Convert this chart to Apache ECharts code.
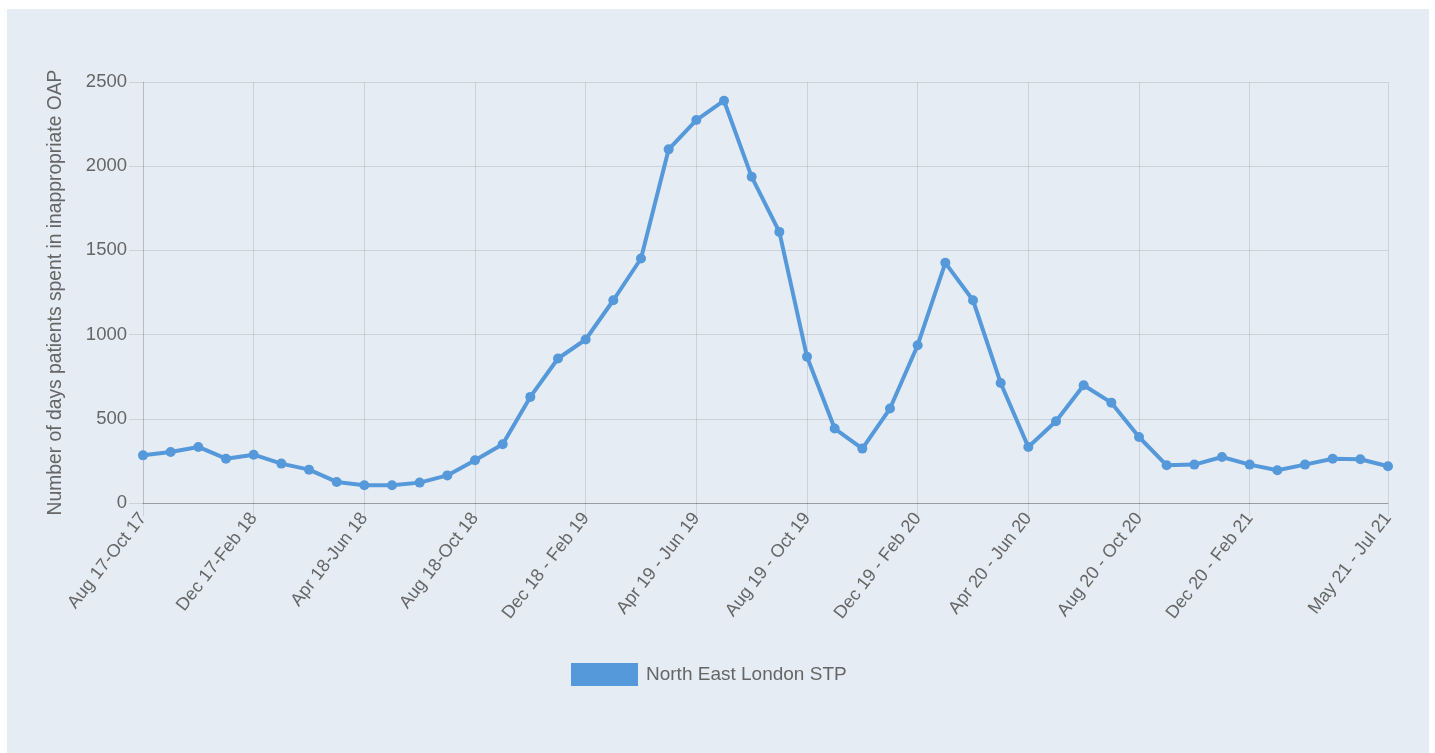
<!DOCTYPE html>
<html>
<head>
<meta charset="utf-8">
<script src="https://cdn.jsdelivr.net/npm/echarts@6/dist/echarts.min.js"></script>
<style>
html,body{margin:0;padding:0;background:#ffffff;}
#panel{position:absolute;left:7px;top:9px;width:1422px;height:744px;background:#e5ecf3;}
#chart{position:absolute;left:0;top:0;width:1435px;height:753px;}
</style>
</head>
<body>
<div id="panel"></div>
<div id="chart"></div>
<script>
const categories = [
"Aug 17-Oct 17","Sep 17-Nov 17","Oct 17-Dec 17","Nov 17-Jan 18","Dec 17-Feb 18","Jan 18-Mar 18",
"Feb 18-Apr 18","Mar 18-May 18","Apr 18-Jun 18","May 18-Jul 18","Jun 18-Aug 18","Jul 18-Sep 18",
"Aug 18-Oct 18","Sep 18 - Nov 18","Oct 18 - Dec 18","Nov 18 - Jan 19","Dec 18 - Feb 19","Jan 19 - Mar 19",
"Feb 19 - Apr 19","Mar 19 - May 19","Apr 19 - Jun 19","May 19 - Jul 19","Jun 19 - Aug 19","Jul 19 - Sep 19",
"Aug 19 - Oct 19","Sep 19 - Nov 19","Oct 19 - Dec 19","Nov 19 - Jan 20","Dec 19 - Feb 20","Jan 20 - Mar 20",
"Feb 20 - Apr 20","Mar 20 - May 20","Apr 20 - Jun 20","May 20 - Jul 20","Jun 20 - Aug 20","Jul 20 - Sep 20",
"Aug 20 - Oct 20","Sep 20 - Nov 20","Oct 20 - Dec 20","Nov 20 - Jan 21","Dec 20 - Feb 21","Jan 21 - Mar 21",
"Feb 21 - Apr 21","Mar 21 - May 21","Apr 21 - Jun 21","May 21 - Jul 21"
];
const neLondonSTP = [
283,303,333,263,287,234,198,125,105,105,121,164,
254,349,630,858,971,1204,1452,2100,2274,2389,1937,1610,
868,442,323,561,937,1426,1204,713,333,485,699,596,
392,224,228,273,228,194,228,263,260,218
];
const yTicks = {min:0, max:2500, interval:500};

const chart = echarts.init(document.getElementById('chart'));
const lastIdx = categories.length - 1;
const showIdx = (i) => (i % 4 === 0 && i < lastIdx - 1) || i === lastIdx;
const gridColor = 'rgba(0,0,0,0.11)';
const font = 'Arial, "Liberation Sans", sans-serif';
chart.setOption({
  backgroundColor: 'transparent',
  animation: false,
  grid: {left: 143, right: 47, top: 82, bottom: 250, containLabel: false},
  legend: {
    data: ['North East London STP'],
    left: 566, top: 658,
    itemWidth: 67, itemHeight: 23, itemGap: 8,
    icon: 'rect',
    textStyle: {color: '#666', fontSize: 19, fontFamily: font, padding: [0,0,0,3]}
  },
  xAxis: {
    type: 'category',
    data: categories,
    boundaryGap: false,
    axisLine: {show: true, lineStyle: {color: 'rgba(0,0,0,0.25)', width: 1}},
    axisTick: {show: true, length: 13, interval: (i) => showIdx(i), lineStyle: {color: gridColor}},
    splitLine: {show: true, interval: (i) => showIdx(i), lineStyle: {color: gridColor}},
    axisLabel: {
      interval: (i) => showIdx(i),
      rotate: 52, margin: 12,
      color: '#666', fontSize: 18,
      fontFamily: font
    }
  },
  yAxis: {
    type: 'value',
    min: yTicks.min, max: yTicks.max, interval: yTicks.interval,
    name: 'Number of days patients spent in inappropriate OAP',
    nameLocation: 'middle', nameGap: 78, nameRotate: 90,
    nameTextStyle: {color: '#666', fontSize: 19.3, fontFamily: font},
    axisLine: {show: true, lineStyle: {color: gridColor}},
    axisTick: {show: true, length: 14, lineStyle: {color: gridColor}},
    splitLine: {show: true, lineStyle: {color: gridColor}},
    axisLabel: {color: '#666', fontSize: 18.5, margin: 16, fontFamily: font, formatter: (v) => String(v)}
  },
  series: [{
    name: 'North East London STP',
    type: 'line',
    data: neLondonSTP,
    symbol: 'circle', symbolSize: 10,
    itemStyle: {color: '#5699db'},
    lineStyle: {color: '#5699db', width: 4}
  }]
});
</script>
</body>
</html>
